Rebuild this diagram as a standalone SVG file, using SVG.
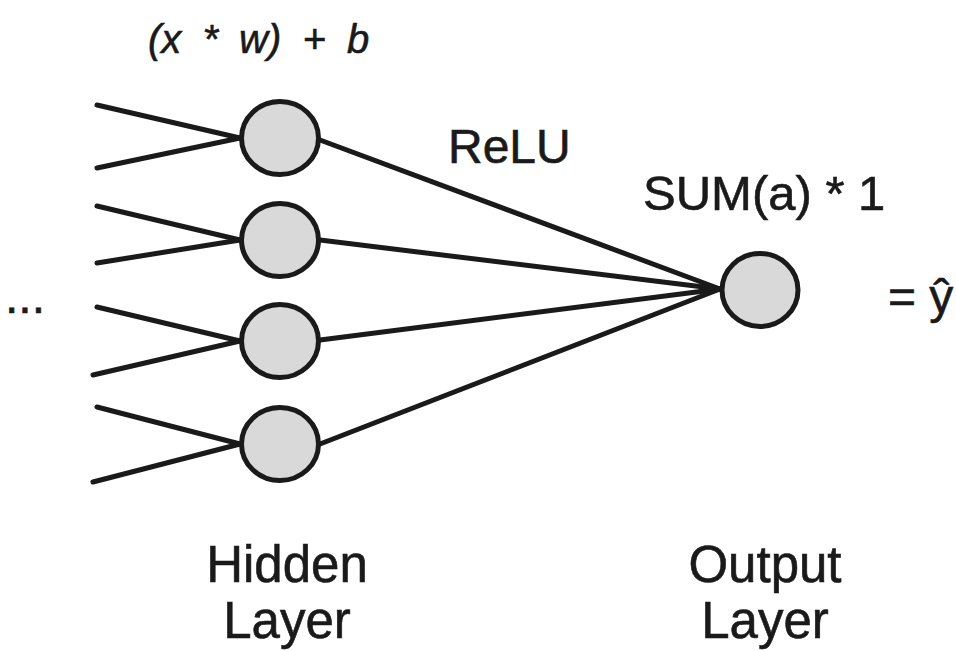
<svg xmlns="http://www.w3.org/2000/svg" width="956" height="651" viewBox="0 0 956 651">
  <style>
    .edge { stroke: #1a1a1a; stroke-width: 5; stroke-linecap: round; fill: none; }
    .node { fill: #d9d9d9; stroke: #1a1a1a; stroke-width: 5; }
    .lbl { font-family: "Liberation Sans", Arial, sans-serif; fill: #1a1a1a; stroke: #1a1a1a; stroke-width: 0.6; }
  </style>
  <rect width="956" height="651" fill="#ffffff"/>
  <g id="connectors">
    <line class="edge" x1="97" y1="105" x2="240" y2="138"/>
    <line class="edge" x1="97" y1="168" x2="240" y2="138"/>
    <line class="edge" x1="97" y1="206" x2="240" y2="240"/>
    <line class="edge" x1="97" y1="263" x2="240" y2="240"/>
    <line class="edge" x1="97" y1="307" x2="240" y2="341"/>
    <line class="edge" x1="93" y1="375" x2="240" y2="341"/>
    <line class="edge" x1="97" y1="407" x2="240" y2="444"/>
    <line class="edge" x1="93" y1="482" x2="240" y2="444"/>
    <line class="edge" x1="320" y1="140" x2="720" y2="289"/>
    <line class="edge" x1="320" y1="240" x2="720" y2="289"/>
    <line class="edge" x1="320" y1="340" x2="720" y2="289"/>
    <line class="edge" x1="320" y1="444" x2="720" y2="289"/>
  </g>
  <g id="h1"><ellipse class="node" cx="280" cy="138" rx="38.5" ry="36.5"/></g>
  <g id="h2"><ellipse class="node" cx="280" cy="240" rx="38.5" ry="36.5"/></g>
  <g id="h3"><ellipse class="node" cx="280" cy="341" rx="38.5" ry="36.5"/></g>
  <g id="h4"><ellipse class="node" cx="280" cy="444" rx="38.5" ry="36.5"/></g>
  <g id="out"><ellipse class="node" cx="760" cy="290" rx="38" ry="36.5"/></g>
  <g id="labels">
    <text class="lbl" x="148" y="53" font-size="40" font-style="italic" word-spacing="10">(x * w) + b</text>
    <text class="lbl" x="448" y="163" font-size="48">ReLU</text>
    <text class="lbl" x="643" y="210" font-size="49">SUM(a) * 1</text>
    <text class="lbl" x="888" y="313" font-size="48">= ŷ</text>
    <text class="lbl" x="5" y="313" font-size="48">...</text>
    <text class="lbl" x="287" y="582" font-size="51" text-anchor="middle">Hidden</text>
    <text class="lbl" x="287" y="638" font-size="51" text-anchor="middle">Layer</text>
    <text class="lbl" x="765" y="582" font-size="51" text-anchor="middle">Output</text>
    <text class="lbl" x="765" y="638" font-size="51" text-anchor="middle">Layer</text>
  </g>
</svg>
